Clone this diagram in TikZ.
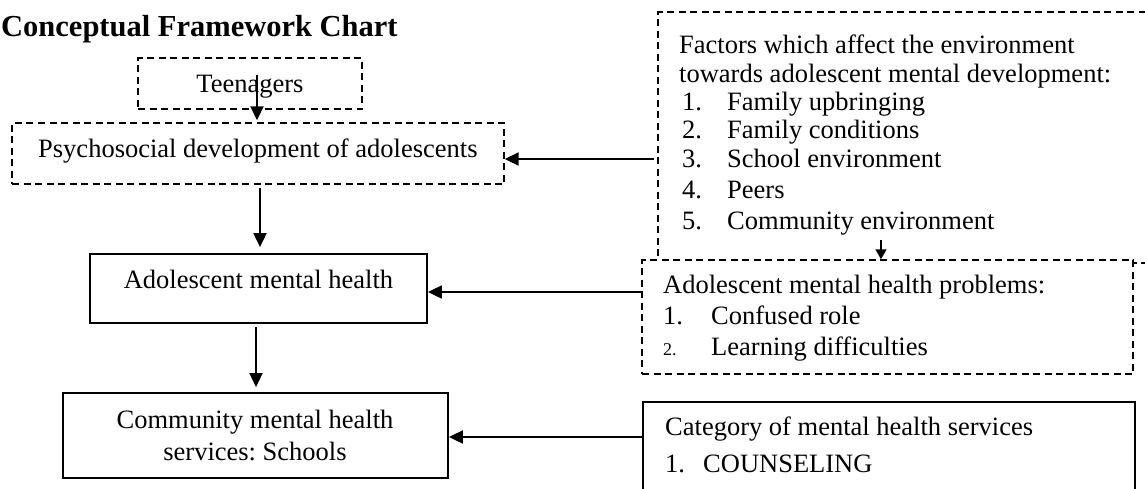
\documentclass[tikz,border=0pt]{standalone}
\usepackage{fontspec}
\setmainfont{Liberation Serif}
\usetikzlibrary{arrows.meta}
\frenchspacing
\begin{document}
\begin{tikzpicture}[x=1pt,y=-1pt,
  dbox/.style={draw, dash pattern=on 7pt off 4.5pt, line width=1.4pt, inner sep=0pt, fill=white},
  sbox/.style={draw, line width=1.8pt, inner sep=0pt, fill=white},
  txt/.style={inner sep=0pt, font=\fontsize{26.5}{29}\selectfont},
  smalltxt/.style={inner sep=0pt, font=\fontsize{18}{20}\selectfont},
  arr/.style={line width=1.9pt, -{Triangle[length=14pt,width=13pt]}},
  smallarr/.style={line width=1.6pt, -{Triangle[length=10pt,width=11pt]}}]
\useasboundingbox (0,0) rectangle (1145,488);

% boxes
\node[dbox, minimum width=224pt, minimum height=51pt] (teen) at (250,83.5) {};
\node[dbox, minimum width=492pt, minimum height=61pt] (psy) at (258,153.5) {};
\node[sbox, minimum width=337pt, minimum height=69pt] (adol) at (258.5,288.5) {};
\node[sbox, minimum width=385pt, minimum height=85pt] (comm) at (255.5,435.5) {};
\node[dbox, minimum width=492pt, minimum height=251pt] (fact) at (904,137.5) {};
\node[dbox, minimum width=491pt, minimum height=114pt] (prob) at (887.5,317) {};
\node[sbox, minimum width=492pt, minimum height=98pt] (cat) at (889,451) {};

% texts
\node[inner sep=0pt, anchor=base west, font=\fontsize{30.5}{34}\selectfont\bfseries] (title) at (1,36) {Conceptual Framework Chart};
\node[txt, anchor=base] (teent) at (250,92) {Teenagers};
\node[txt, anchor=base west] (psyt) at (38,157) {Psychosocial development of adolescents};
\node[txt, anchor=base] (adolt) at (258.5,288) {Adolescent mental health};
\node[txt, anchor=base] (commt1) at (255,428) {Community mental health};
\node[txt, anchor=base] (commt2) at (255,460) {services: Schools};

\node[txt, anchor=base west] (f0) at (679,53) {Factors which affect the environment};
\node[txt, anchor=base west] (f00) at (679,82) {towards adolescent mental development:};
\node[txt, anchor=base west] (n1) at (682,110) {1.};
\node[txt, anchor=base west] (f1) at (727,110) {Family upbringing};
\node[txt, anchor=base west] (n2) at (682,138) {2.};
\node[txt, anchor=base west] (f2) at (727,138) {Family conditions};
\node[txt, anchor=base west] (n3) at (682,167) {3.};
\node[txt, anchor=base west] (f3) at (727,167) {School environment};
\node[txt, anchor=base west] (n4) at (682,198) {4.};
\node[txt, anchor=base west] (f4) at (727,198) {Peers};
\node[txt, anchor=base west] (n5) at (682,229) {5.};
\node[txt, anchor=base west] (f5) at (727,229) {Community environment};

\node[txt, anchor=base west] (p0) at (663,293) {Adolescent mental health problems:};
\node[txt, anchor=base west] (pn1) at (663,324) {1.};
\node[txt, anchor=base west] (p1) at (711,324) {Confused role};
\node[smalltxt, anchor=base west] (pn2) at (663,355) {2.};
\node[txt, anchor=base west] (p2) at (711,355) {Learning difficulties};

\node[txt, anchor=base west] (c0) at (665,435) {Category of mental health services};
\node[txt, anchor=base west] (cn1) at (665,472) {1.};
\node[txt, anchor=base west] (c1) at (703,472) {COUNSELING};

% helper coordinates
\coordinate (a1) at (257,75);
\coordinate (x260) at (260,0);
\coordinate (x256) at (256,0);
\coordinate (x881) at (881,240);
\coordinate (y159) at (0,159);
\coordinate (y292) at (0,292);
\coordinate (y437) at (0,437);

% connectors
\draw[arr] (a1) -- ([yshift=2pt]a1 |- psy.north);
\draw[arr, shorten <=3pt] (fact.west |- y159) -- (psy.east |- y159);
\draw[arr, shorten <=3pt, shorten >=6pt] (psy.south -| x260) -- (adol.north -| x260);
\draw[arr] (prob.west |- y292) -- (adol.east |- y292);
\draw[smallarr] (x881) -- (x881 |- prob.north);
\draw[arr, shorten <=3pt, shorten >=5pt] (adol.south -| x256) -- (comm.north -| x256);
\draw[arr] (cat.west |- y437) -- (comm.east |- y437);
\end{tikzpicture}
\end{document}
